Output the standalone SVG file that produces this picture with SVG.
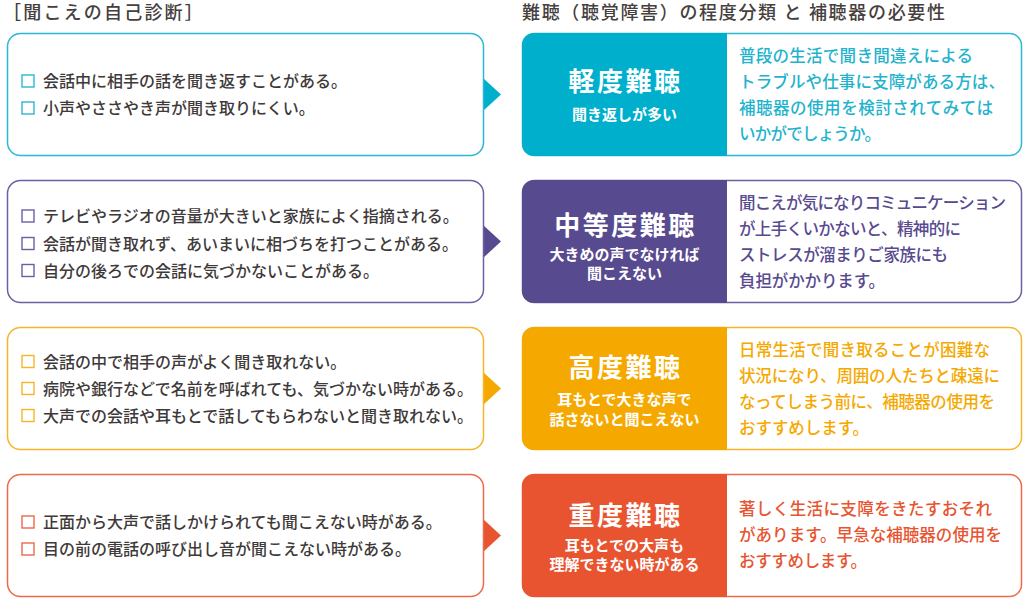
<svg xmlns="http://www.w3.org/2000/svg" width="1024" height="598" viewBox="0 0 1024 598">
<style>
text{font-family:"Noto Sans CJK JP","Noto Sans",sans-serif}
.hd{font-size:18px;fill:#45403d;font-weight:500}
.chk{font-size:16px;fill:#3e3a39;font-weight:500}
.ttl{font-size:26px;fill:#fff;font-weight:700;letter-spacing:2.5px;text-anchor:middle}
.sub{font-size:15px;fill:#fff;font-weight:700;text-anchor:middle}
.desc{font-size:16.5px;font-weight:500}
.lbox{fill:#fff;stroke-width:1.5}
.cb{fill:none;stroke-width:1.4}
.c1{stroke:#2bb9d2}.f1{fill:#00afcc}
.c2{stroke:#6d5fa3}.f2{fill:#584a8f}
.c3{stroke:#f7b52a}.f3{fill:#f5a900}
.c4{stroke:#ec6a4b}.f4{fill:#e8542f}
</style>

<g id="headers">
<text class="hd" x="3" y="19" letter-spacing="2.2">［聞こえの自己診断］</text>
<text class="hd" x="522" y="19" textLength="423" lengthAdjust="spacing">難聴（聴覚障害）の程度分類 と 補聴器の必要性</text>
</g>

<g id="connectors">
<polygon class="f1" points="483,78 501,94.5 483,111"/>
<polygon class="f2" points="483,225 501,241.5 483,258"/>
<polygon class="f3" points="483,372 501,388.5 483,405"/>
<polygon class="f4" points="483,519 501,535.5 483,552"/>
</g>

<g id="check-mild">
<rect class="lbox c1" x="7.5" y="33.5" width="476" height="122" rx="13"/>
<rect class="cb c1" x="22" y="75" width="12" height="12"/>
<text class="chk" x="43" y="87">会話中に相手の話を聞き返すことがある。</text>
<rect class="cb c1" x="22" y="102" width="12" height="12"/>
<text class="chk" x="43" y="114">小声やささやき声が聞き取りにくい。</text>
</g>

<g id="check-moderate">
<rect class="lbox c2" x="7.5" y="180.5" width="476" height="122" rx="13"/>
<rect class="cb c2" x="22" y="210" width="12" height="12"/>
<text class="chk" x="43" y="222">テレビやラジオの音量が大きいと家族によく指摘される。</text>
<rect class="cb c2" x="22" y="237.5" width="12" height="12"/>
<text class="chk" x="43" y="249.5">会話が聞き取れず、あいまいに相づちを打つことがある。</text>
<rect class="cb c2" x="22" y="264.5" width="12" height="12"/>
<text class="chk" x="43" y="276.5">自分の後ろでの会話に気づかないことがある。</text>
</g>

<g id="check-severe">
<rect class="lbox c3" x="7.5" y="327.5" width="476" height="122" rx="13"/>
<rect class="cb c3" x="22" y="355.5" width="12" height="12"/>
<text class="chk" x="43" y="367.5">会話の中で相手の声がよく聞き取れない。</text>
<rect class="cb c3" x="22" y="382.5" width="12" height="12"/>
<text class="chk" x="43" y="394.5">病院や銀行などで名前を呼ばれても、気づかない時がある。</text>
<rect class="cb c3" x="22" y="409.5" width="12" height="12"/>
<text class="chk" x="43" y="421.5">大声での会話や耳もとで話してもらわないと聞き取れない。</text>
</g>

<g id="check-profound">
<rect class="lbox c4" x="7.5" y="474.5" width="476" height="122" rx="13"/>
<rect class="cb c4" x="22" y="516" width="12" height="12"/>
<text class="chk" x="43" y="528">正面から大声で話しかけられても聞こえない時がある。</text>
<rect class="cb c4" x="22" y="543" width="12" height="12"/>
<text class="chk" x="43" y="555">目の前の電話の呼び出し音が聞こえない時がある。</text>
</g>

<g id="level-mild">
<rect class="lbox c1" x="522.5" y="33.5" width="499" height="122" rx="12"/>
<path class="f1" d="M534,33H727V156H534A12,12 0 0 1 522,144V45A12,12 0 0 1 534,33Z"/>
<text class="ttl" x="625.5" y="90.5">軽度難聴</text>
<text class="sub" x="624.5" y="119.5">聞き返しが多い</text>
</g>
<g id="advice-mild" fill="#1fb3cd">
<text class="desc" x="739" y="62" textLength="234" lengthAdjust="spacing">普段の生活で聞き間違えによる</text>
<text class="desc" x="739" y="88" textLength="266" lengthAdjust="spacing">トラブルや仕事に支障がある方は、</text>
<text class="desc" x="739" y="114" textLength="254" lengthAdjust="spacing">補聴器の使用を検討されてみては</text>
<text class="desc" x="739" y="140" textLength="142" lengthAdjust="spacing">いかがでしょうか。</text>
</g>

<g id="level-moderate">
<rect class="lbox c2" x="522.5" y="180.5" width="499" height="122" rx="12"/>
<path class="f2" d="M534,180H727V303H534A12,12 0 0 1 522,291V192A12,12 0 0 1 534,180Z"/>
<text class="ttl" x="625.5" y="234.5">中等度難聴</text>
<text class="sub" x="624.5" y="259.5">大きめの声でなければ</text>
<text class="sub" x="624.5" y="278.5">聞こえない</text>
</g>
<g id="advice-moderate" fill="#584a8f">
<text class="desc" x="739" y="208.5" textLength="267" lengthAdjust="spacing">聞こえが気になりコミュニケーション</text>
<text class="desc" x="739" y="234.5" textLength="222" lengthAdjust="spacing">が上手くいかないと、精神的に</text>
<text class="desc" x="739" y="260.5" textLength="209" lengthAdjust="spacing">ストレスが溜まりご家族にも</text>
<text class="desc" x="739" y="286.5" textLength="146" lengthAdjust="spacing">負担がかかります。</text>
</g>

<g id="level-severe">
<rect class="lbox c3" x="522.5" y="327.5" width="499" height="122" rx="12"/>
<path class="f3" d="M534,327H727V450H534A12,12 0 0 1 522,438V339A12,12 0 0 1 534,327Z"/>
<text class="ttl" x="625.5" y="376.5">高度難聴</text>
<text class="sub" x="624.5" y="405">耳もとで大きな声で</text>
<text class="sub" x="624.5" y="424.5">話さないと聞こえない</text>
</g>
<g id="advice-severe" fill="#f5a900">
<text class="desc" x="739" y="355.5" textLength="251" lengthAdjust="spacing">日常生活で聞き取ることが困難な</text>
<text class="desc" x="739" y="381.5" textLength="261" lengthAdjust="spacing">状況になり、周囲の人たちと疎遠に</text>
<text class="desc" x="739" y="407.5" textLength="256" lengthAdjust="spacing">なってしまう前に、補聴器の使用を</text>
<text class="desc" x="739" y="433.5" textLength="130" lengthAdjust="spacing">おすすめします。</text>
</g>

<g id="level-profound">
<rect class="lbox c4" x="522.5" y="474.5" width="499" height="122" rx="12"/>
<path class="f4" d="M534,474H727V597H534A12,12 0 0 1 522,585V486A12,12 0 0 1 534,474Z"/>
<text class="ttl" x="625.5" y="524.5">重度難聴</text>
<text class="sub" x="624.5" y="551">耳もとでの大声も</text>
<text class="sub" x="624.5" y="570">理解できない時がある</text>
</g>
<g id="advice-profound" fill="#e8542f">
<text class="desc" x="739" y="515" textLength="253" lengthAdjust="spacing">著しく生活に支障をきたすおそれ</text>
<text class="desc" x="739" y="541" textLength="263" lengthAdjust="spacing">があります。早急な補聴器の使用を</text>
<text class="desc" x="739" y="567" textLength="128" lengthAdjust="spacing">おすすめします。</text>
</g>
</svg>
